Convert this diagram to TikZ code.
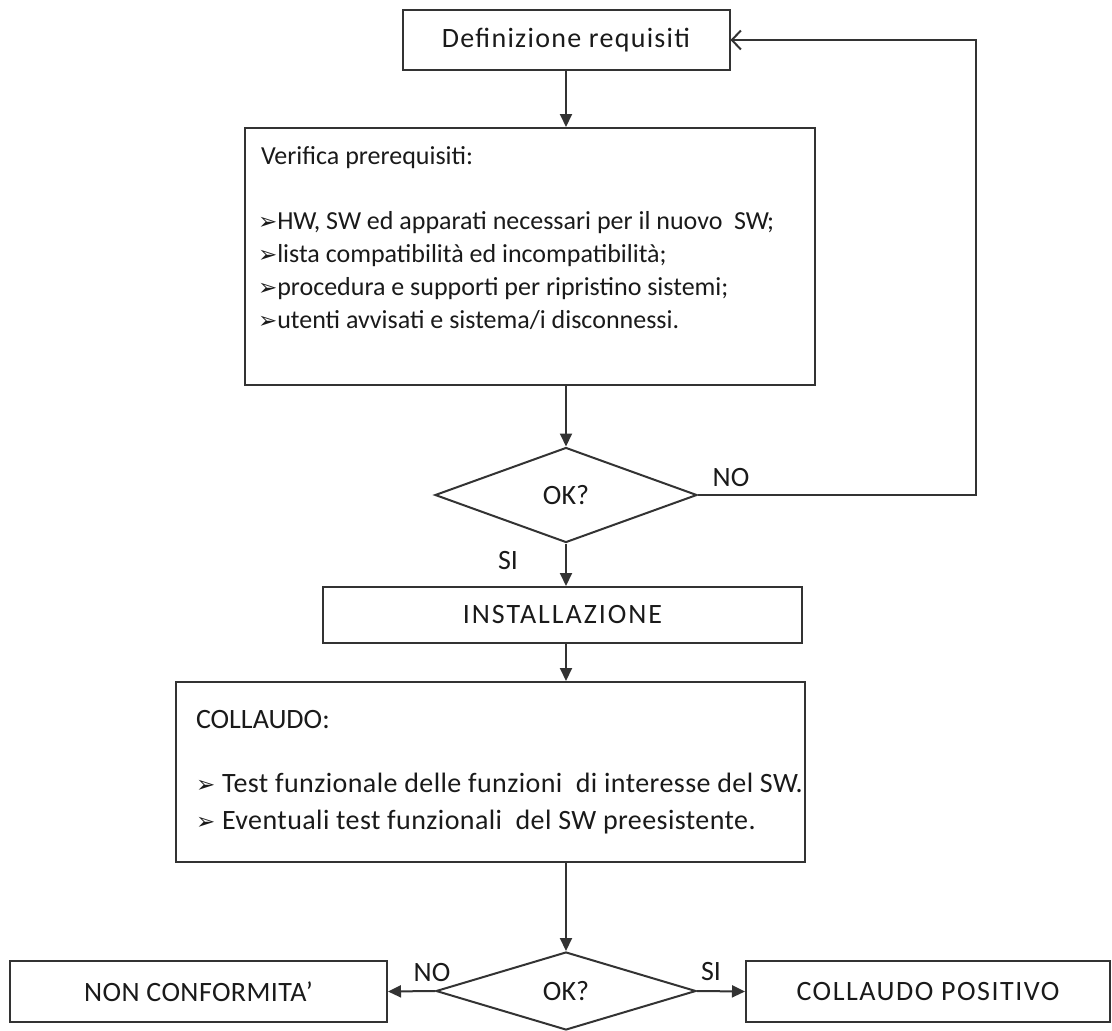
\documentclass[tikz,border=0pt]{standalone}
\usepackage{fontspec}
\setmainfont{Carlito}
\newfontfamily\symfont{DejaVu Sans}
\usetikzlibrary{shapes.geometric,arrows.meta}
\definecolor{linec}{HTML}{333333}
\definecolor{txtc}{HTML}{1A1A1A}
\newcommand\bulx{{\symfont\fontsize{23}{33}\selectfont ➢}}
\newcommand\spc[1]{\addfontfeature{LetterSpace=#1}}
\begin{document}
\begin{tikzpicture}[x=1pt,y=-1pt,
  line width=2pt,
  txt/.style={inner sep=0pt, text=txtc, font=\fontsize{28}{33}\selectfont},
  box/.style={draw=linec, rectangle, inner sep=0pt, txt},
  dec/.style={draw=linec, diamond, inner sep=0pt, txt},
  arr/.style={draw=linec, -{Triangle[length=13pt,width=12pt]}},
  fb/.style={draw=linec, -{Straight Barb[length=9pt,width=19pt,line width=2pt]}}
]
\useasboundingbox (0,0) rectangle (1112,1031);

% boxes
\node[box, minimum width=327pt, minimum height=60pt] (req) at (566,40) {\spc{4.6}Definizione requisiti};
\node[box, minimum width=570pt, minimum height=257pt] (ver) at (530,256.5) {};
\node[dec, minimum width=262pt, minimum height=95pt] (dia1) at (566,495) {OK?};
\node[box, minimum width=479pt, minimum height=56pt] (inst) at (562.5,615) {\spc{7}INSTALLAZIONE};
\node[box, minimum width=629pt, minimum height=180pt] (coll) at (490.5,772) {};
\node[dec, minimum width=260pt, minimum height=78pt] (dia2) at (566,991) {OK?};
\node[box, minimum width=377pt, minimum height=61pt] (nc) at (198.5,991.5) {\spc{1.5}NON CONFORMITA’};
\node[box, minimum width=364pt, minimum height=61pt] (cp) at (928,991.5) {\spc{5.4}COLLAUDO POSITIVO};

% texts inside boxes
\node[txt, anchor=west, font=\fontsize{26}{33}\selectfont] (vtitle) at (260,158) {Verifica prerequisiti:};
\node[txt, anchor=west, align=left, font=\fontsize{26}{33}\selectfont] (vlist) at (257,270.5) {\bulx HW, SW ed apparati necessari per il nuovo\ \ SW;\\
\bulx lista compatibilità ed incompatibilità;\\
\bulx procedura e supporti per ripristino sistemi;\\
\bulx utenti avvisati e sistema/i disconnessi.};
\node[txt, anchor=west] (ctitle) at (195,720) {COLLAUDO:};
\node[txt, anchor=west, align=left, font=\fontsize{28}{37}\selectfont\spc{1.5}] (clist) at (195,803.5) {\bulx\ Test funzionale delle funzioni\ \ di interesse del SW.\\
\bulx\ Eventuali test funzionali\ \ del SW preesistente.};

% connectors
\draw[arr] (req.south) -- (ver.north -| req.south);
\draw[arr] (ver.south -| dia1.north) -- (dia1.north);
\draw[arr] (dia1.south) -- (inst.north -| dia1.south);
\draw[arr] (inst.south -| dia1.south) -- (coll.north -| dia1.south);
\draw[arr] (coll.south -| dia2.north) -- (dia2.north);
\draw[fb] (dia1.east) -- ++(278,0) coordinate (fbc) |- (req.east);
\draw[arr] (dia2.west) -- (nc.east);
\draw[arr] (dia2.east) -- (cp.west);

% labels
\node[txt] (no1) at (731,478) {NO};
\node[txt] (si1) at (508,561) {SI};
\node[txt] (no2) at (432,972) {NO};
\node[txt] (si2) at (711,971) {SI};
\end{tikzpicture}
\end{document}
